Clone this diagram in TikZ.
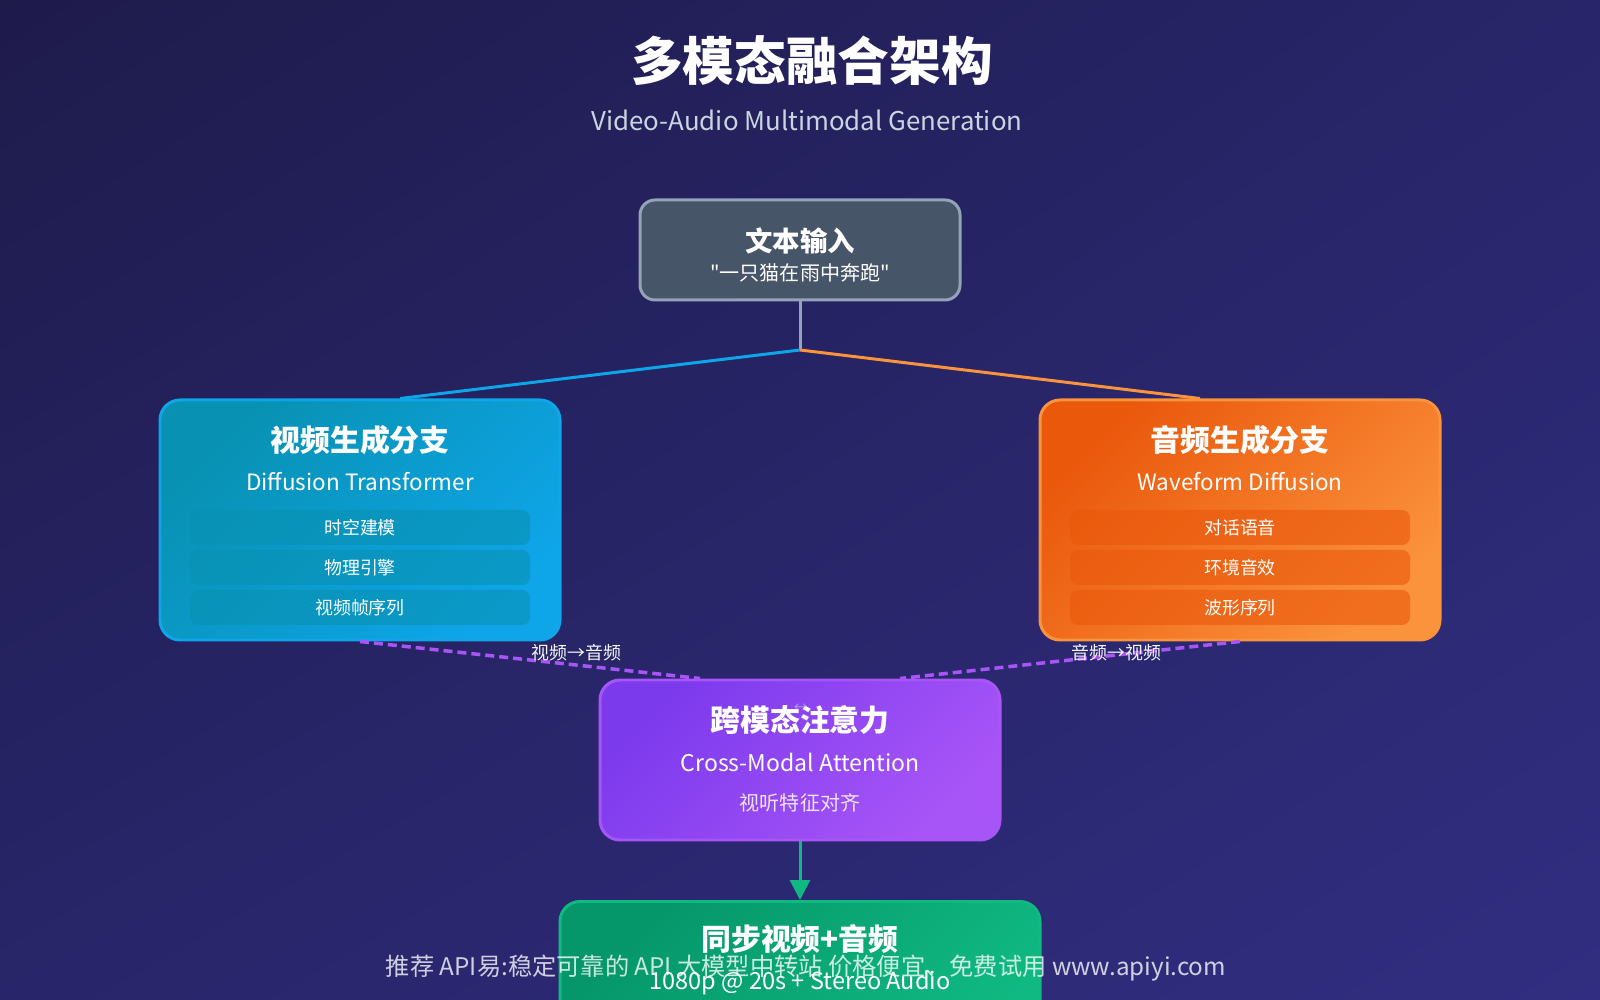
\documentclass[tikz,border=0pt]{standalone}
\usepackage{fontspec}
\setmainfont{Noto Sans CJK SC}[Ligatures=TeXOff]
\usetikzlibrary{arrows.meta,positioning,shadings}
\definecolor{bgA}{HTML}{1E1B4B}
\definecolor{bgB}{HTML}{312E81}
\definecolor{bgM}{HTML}{28256A}
\definecolor{slatefill}{HTML}{475569}
\definecolor{slateline}{HTML}{94A3B8}
\definecolor{subgrey}{HTML}{CBD5E1}
\definecolor{vidA}{HTML}{0891B2}
\definecolor{vidB}{HTML}{0EA5E9}
\definecolor{audA}{HTML}{EA580C}
\definecolor{audB}{HTML}{FB923C}
\definecolor{attA}{HTML}{7C3AED}
\definecolor{attB}{HTML}{A855F7}
\definecolor{outA}{HTML}{059669}
\definecolor{outB}{HTML}{10B981}
\tikzstyle{every picture}=[node distance=0.4cm, line width=0.85pt,%
	>={Triangle[length=2mm,width=2mm]}]
\tikzstyle{box}=[draw, line width=0.85pt, rounded corners=0.2cm, inner sep=0pt,%
	minimum width=4cm, minimum height=2.4cm]
\tikzstyle{inbox}=[box, fill=slatefill, draw=slateline, rounded corners=0.15cm,%
	minimum width=3.2cm, minimum height=1cm]
\tikzstyle{vidbox}=[box, draw=vidB, top color=vidA, bottom color=vidB, shading angle=45]
\tikzstyle{audbox}=[box, draw=audB, top color=audA, bottom color=audB, shading angle=45]
\tikzstyle{attbox}=[box, draw=attB, top color=attA, bottom color=attB, shading angle=45,%
	minimum height=1.6cm]
\tikzstyle{outbox}=[box, draw=outB, top color=outA, bottom color=outB, shading angle=45,%
	minimum width=4.8cm, minimum height=1.6cm]
\tikzstyle{item}=[fill opacity=0.6, text opacity=1, text=white,%
	rounded corners=0.08cm, minimum width=3.4cm, minimum height=0.35cm, inner sep=0pt,%
	font=\fontsize{5.1pt}{6pt}\selectfont]
\tikzstyle{headtext}=[text=white, inner sep=0pt, font=\fontsize{8.5pt}{10pt}\selectfont\bfseries]
\tikzstyle{engtext}=[text=white, inner sep=0pt, font=\fontsize{6.4pt}{7pt}\selectfont]
\tikzstyle{xlabel}=[text=white!92!slateline, inner sep=0pt, anchor=west, yshift=0.07cm,%
	font=\fontsize{5.1pt}{6pt}\selectfont]
\tikzstyle{xmodal}=[draw=attB, line width=1pt, dash pattern=on 0.09cm off 0.05cm]

\begin{document}
\begin{tikzpicture}
\useasboundingbox (0,0) rectangle (16,-10);
\clip (0,0) rectangle (16,-10);
\shade[upper left=bgA, upper right=bgM, lower left=bgM, lower right=bgB] (0,0) rectangle (16,-10);

\node[text=white, inner sep=0pt, font=\fontsize{14.7pt}{16pt}\selectfont\bfseries] (title)%
	at (8.12,-0.61) {多模态融合架构};
\node[text=subgrey, inner sep=0pt, font=\fontsize{7.35pt}{8pt}\selectfont] (subtitle)%
	[below of=title, node distance=0.59cm, xshift=-0.05cm] {Video-Audio Multimodal Generation};

\node[inbox] (input) at (8,-2.5) {};
\node[headtext, font=\fontsize{7.8pt}{9pt}\selectfont\bfseries] (intitle) at (8,-2.41) {文本输入};
\node[engtext, font=\fontsize{5.7pt}{7pt}\selectfont] (inquote) [below of=intitle, node distance=0.32cm]%
	{"一只猫在雨中奔跑"};

\node[vidbox] (video) at (3.6,-5.2) {};
\node[headtext] (vidtitle) at (3.6,-4.40) {视频生成分支};
\node[engtext] (vidsub) [below of=vidtitle, node distance=0.42cm] {Diffusion Transformer};
\node[item, fill=vidA] (vid1) at (3.6,-5.275) {时空建模};
\node[item, fill=vidA] (vid2) [below of=vid1] {物理引擎};
\node[item, fill=vidA] (vid3) [below of=vid2] {视频帧序列};

\node[audbox] (audio) at (12.4,-5.2) {};
\node[headtext] (audtitle) at (12.4,-4.40) {音频生成分支};
\node[engtext] (audsub) [below of=audtitle, node distance=0.42cm] {Waveform Diffusion};
\node[item, fill=audA] (aud1) at (12.4,-5.275) {对话语音};
\node[item, fill=audA] (aud2) [below of=aud1] {环境音效};
\node[item, fill=audA] (aud3) [below of=aud2] {波形序列};

\node[attbox] (attn) at (8,-7.6) {};
\node[headtext] (atttitle) at (8,-7.20) {跨模态注意力};
\node[text=subgrey, opacity=0.6, inner sep=0pt, font=\fontsize{4pt}{5pt}\selectfont] (attmark)%
	at (8.01,-7.08) {↔};
\node[engtext, font=\fontsize{6.55pt}{7pt}\selectfont] (attsub) [below of=atttitle, node distance=0.42cm]%
	{Cross-Modal Attention};
\node[engtext, text opacity=0.85, font=\fontsize{5.7pt}{7pt}\selectfont] (attnote)%
	[below of=attsub, node distance=0.41cm] {视听特征对齐};

\node[outbox, anchor=north] (output) at (8,-9) {};
\node[headtext] (outtitle) at (8,-9.39) {同步视频+音频};
\node[engtext, font=\fontsize{6.7pt}{7pt}\selectfont] (outsub) [below of=outtitle, node distance=0.44cm]%
	{1080p @ 20s + Stereo Audio};

\coordinate (split) at (8,-3.5);
\draw[slateline] (input) -- (split);
\draw[vidB] (split) -- ([xshift=0.4cm]video.north);
\draw[audB] (split) -- ([xshift=-0.4cm]audio.north);
\path[xmodal] (video.south) -- node[xlabel] {视频→音频} ([xshift=-1cm]attn.north);
\path[xmodal] (audio.south) -- node[xlabel] {音频→视频} ([xshift=1cm]attn.north);
\draw[outB, ->] (attn) -- (output);

\node[text=white, text opacity=0.78, inner sep=0pt, font=\fontsize{6.9pt}{7pt}\selectfont] (note)%
	at (8.06,-9.68) {推荐 API易:稳定可靠的 API 大模型中转站 价格便宜、免费试用 www.apiyi.com};
\end{tikzpicture}
\end{document}
